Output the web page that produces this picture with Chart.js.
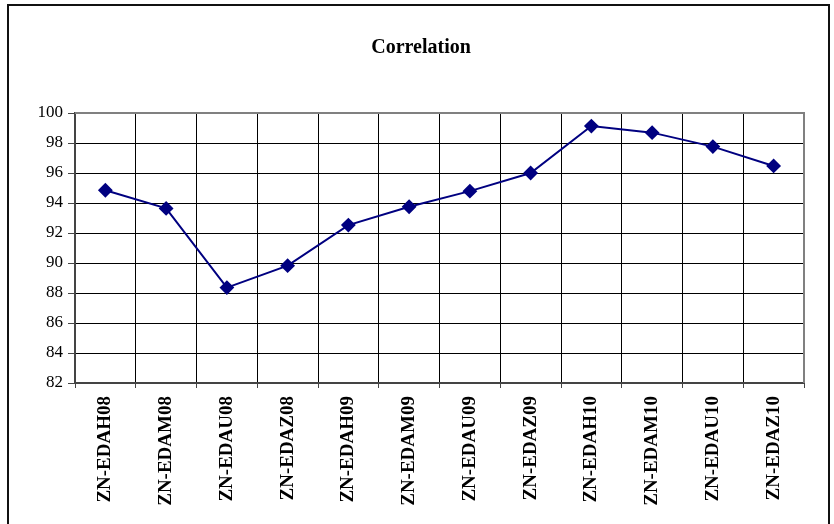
<!DOCTYPE html>
<html><head><meta charset="utf-8">
<script src="https://cdn.jsdelivr.net/npm/chart.js@4/dist/chart.umd.min.js"></script>
<style>html,body{margin:0;padding:0;background:#fff}</style>
</head><body>
<canvas id="c" width="834" height="524" style="display:block"></canvas>
<script>
const categories = ["ZN-EDAH08","ZN-EDAM08","ZN-EDAU08","ZN-EDAZ08","ZN-EDAH09","ZN-EDAM09","ZN-EDAU09","ZN-EDAZ09","ZN-EDAH10","ZN-EDAM10","ZN-EDAU10","ZN-EDAZ10"];
const correlation = [94.85, 93.64, 88.36, 89.82, 92.53, 93.75, 94.79, 96.0, 99.13, 98.69, 97.76, 96.47];
const yMin = 82, yMax = 100, yStep = 2;
const chartTitle = "Correlation";

const framePlugin = {
  id: 'frame',
  beforeDraw(chart) {
    const ctx = chart.ctx;
    ctx.save();
    ctx.fillStyle = '#fff';
    ctx.fillRect(0, 0, chart.width, chart.height);
    ctx.restore();
  },
  afterDatasetsDraw(chart) {
    const ctx = chart.ctx, a = chart.chartArea;
    ctx.save();
    ctx.strokeStyle = '#808080';
    ctx.lineWidth = 2;
    ctx.beginPath();
    ctx.moveTo(a.left, a.top);
    ctx.lineTo(a.right, a.top);
    ctx.lineTo(a.right, a.bottom);
    ctx.stroke();
    ctx.restore();
  },
  afterDraw(chart) {
    const ctx = chart.ctx;
    ctx.save();
    ctx.strokeStyle = '#111';
    ctx.lineWidth = 2;
    ctx.strokeRect(8, 5, 821, 540);
    ctx.restore();
  }
};

new Chart(document.getElementById('c'), {
  type: 'line',
  data: {
    labels: categories,
    datasets: [{
      label: 'Correlation',
      data: correlation,
      borderColor: '#000080',
      backgroundColor: '#000080',
      borderWidth: 2,
      pointStyle: 'rectRot',
      pointRadius: 6,
      pointHoverRadius: 6,
      pointBackgroundColor: '#000080',
      pointBorderColor: '#000080',
      tension: 0,
      fill: false
    }]
  },
  options: {
    responsive: false,
    devicePixelRatio: 1,
    animation: false,
    layout: { padding: { left: 38, right: 30, top: 0, bottom: 0 } },
    plugins: {
      legend: { display: false },
      tooltip: { enabled: false },
      title: {
        display: true,
        text: chartTitle,
        color: '#000',
        font: { family: 'Liberation Serif', size: 20, weight: 'bold' },
        padding: { top: 36, bottom: 53 }
      }
    },
    scales: {
      x: {
        type: 'category',
        offset: true,
        grid: { display: true, offset: true, color: '#000', lineWidth: 1, drawTicks: true, tickLength: 5, tickColor: '#444' },
        border: { display: true, color: '#444', width: 2 },
        ticks: {
          autoSkip: false,
          maxRotation: 90,
          minRotation: 90,
          padding: 8,
          color: '#000',
          font: { family: 'Liberation Serif', size: 19, weight: 'bold' }
        },
        afterFit(s) { s.height = 141; }
      },
      y: {
        min: yMin,
        max: yMax,
        grid: { color: '#000', lineWidth: 1, drawTicks: true, tickLength: 7, tickColor: '#444' },
        border: { display: true, color: '#444', width: 2 },
        ticks: {
          stepSize: yStep,
          padding: 5,
          color: '#000',
          font: { family: 'Liberation Serif', size: 17 }
        },
        afterFit(s) { s.width = 37; }
      }
    }
  },
  plugins: [framePlugin]
});
</script>
</body></html>
